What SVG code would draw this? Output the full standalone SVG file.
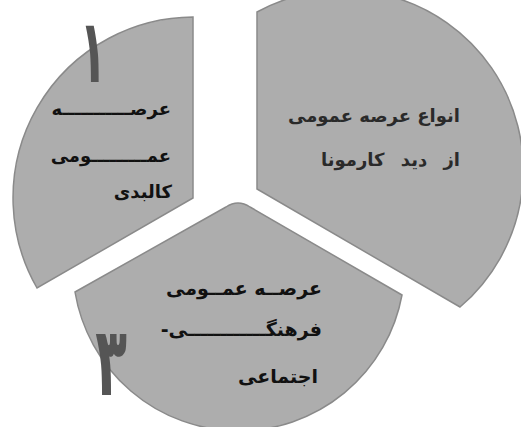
<svg xmlns="http://www.w3.org/2000/svg" width="521" height="427" viewBox="0 0 521 427">
<style>
.slice{fill:#adadad;stroke:#8a8a8a;stroke-width:1.5}
.t{font-family:"DejaVu Sans",sans-serif;font-weight:bold;fill:#111;direction:rtl;text-anchor:start}
.num{font-family:"DejaVu Sans",sans-serif;font-weight:bold;fill:#555;text-anchor:middle}
</style>
<rect width="521" height="427" fill="#fff"/>
<g id="slice-1">
<path class="slice" d="M193,17 L193,198 L37,288 A181,181 0 0 1 193,17 Z"/>
<text class="num" transform="translate(93,82) scale(0.6,1.2)" font-size="74">۱</text>
<text class="t" x="171" y="115" font-size="18">عرصـــــــــــه</text>
<text class="t" x="171" y="162" font-size="18">عمـــــــــومی</text>
<text class="t" x="172" y="198" font-size="18">کالبدی</text>
</g>
<g id="slice-2">
<path class="slice" d="M257,12 L257,189 L460,307 A180,180 0 0 0 257,12 Z"/>
<text class="t" x="460" y="122" font-size="18" style="fill:#2a2a2a">انواع عرصه عمومی</text>
<text class="t" x="460" y="166" font-size="18" word-spacing="10" style="fill:#2a2a2a">از دید کارمونا</text>
</g>
<g id="slice-3">
<path class="slice" d="M226,207 Q238,199 250,207 L402,295 A166,166 0 0 1 75,292 Z"/>
<text class="num" transform="translate(111,395) scale(0.65,1.2)" font-size="80">۳</text>
<text class="t" x="322" y="295" font-size="19">عرصــه عمــومی</text>
<text class="t" x="322" y="336" font-size="19">فرهنگــــــــــــی-</text>
<text class="t" x="318" y="383" font-size="19">اجتماعی</text>
</g>
<g id="connectors"></g>
</svg>
